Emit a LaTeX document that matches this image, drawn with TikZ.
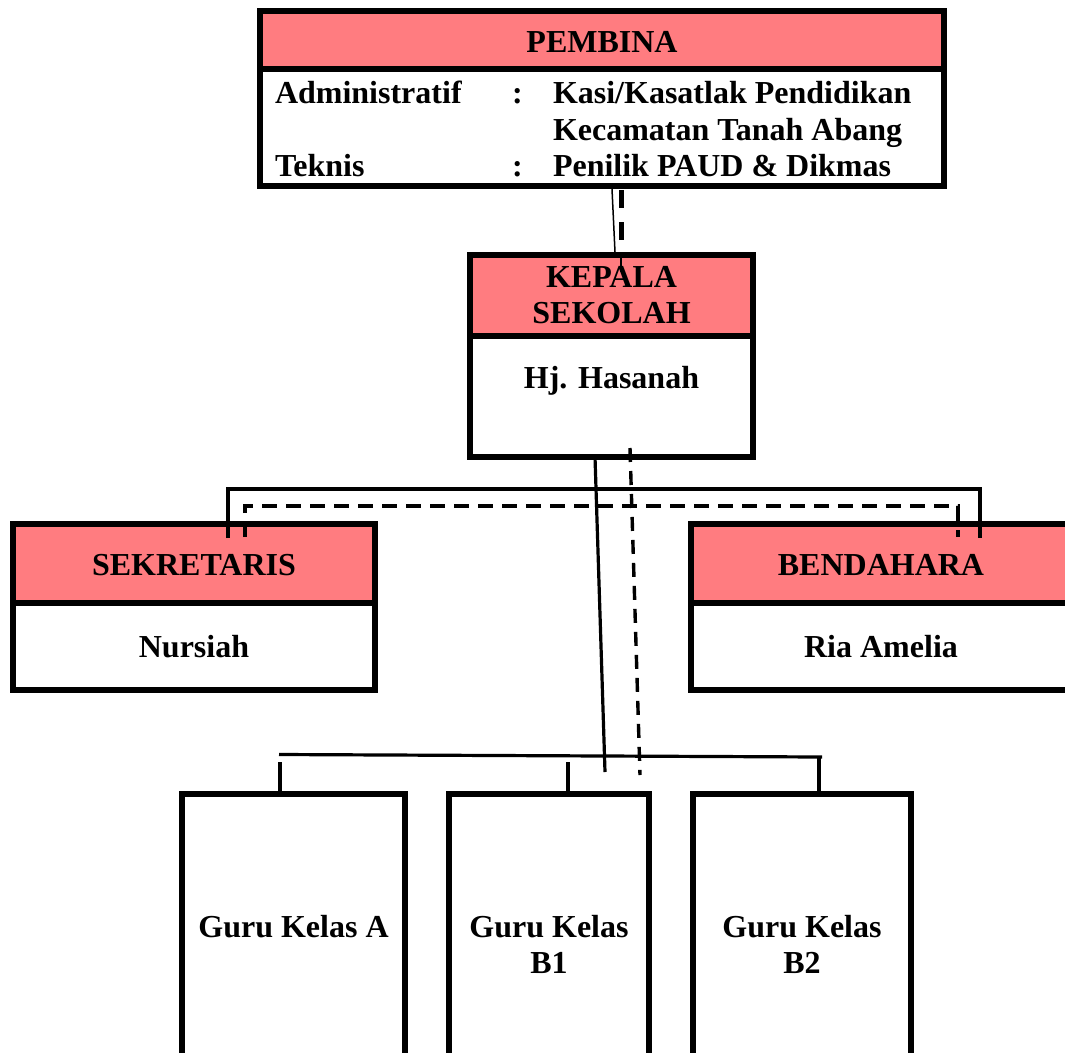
\documentclass[tikz,border=0pt]{standalone}
\usepackage{fontspec}
\setmainfont{Liberation Serif}
\definecolor{rosehead}{RGB}{255,124,128}
\begin{document}
\begin{tikzpicture}[x=1pt,y=-1pt,
  boxline/.style={draw=black,line width=6pt,rectangle,inner sep=0pt,outer sep=0pt},
  headbox/.style={boxline,fill=rosehead},
  bodybox/.style={boxline,fill=white},
  lbl/.style={inner sep=0pt,outer sep=0pt,font=\fontsize{32}{36}\selectfont\bfseries},
  solidlink/.style={line width=3.2pt},
  dashlink/.style={line width=3.4pt,dash pattern=on 14pt off 9pt},
]
\useasboundingbox (0,0) rectangle (1065,1052);
\clip (0,0) rectangle (1065,1052);

% PEMBINA
\node[headbox,minimum width=684,minimum height=58] (pembinaH) at (602,40) {};
\node[bodybox,minimum width=684,minimum height=117] (pembinaB) at (602,127.5) {};
% KEPALA SEKOLAH
\node[headbox,minimum width=283,minimum height=81] (kepalaH) at (611.5,295) {};
\node[bodybox,minimum width=283,minimum height=121.5] (kepalaB) at (611.5,396.25) {};
% SEKRETARIS
\node[headbox,minimum width=362,minimum height=79] (sekH) at (194,563.5) {};
\node[bodybox,minimum width=362,minimum height=86.7] (sekB) at (194,646.35) {};
% BENDAHARA
\node[headbox,minimum width=380,minimum height=79] (benH) at (881,563.5) {};
\node[bodybox,minimum width=380,minimum height=86.7] (benB) at (881,646.35) {};
% GURU
\node[bodybox,minimum width=223,minimum height=290] (guruA) at (293.5,939) {};
\node[bodybox,minimum width=200,minimum height=290] (guruB1) at (549,939) {};
\node[bodybox,minimum width=218,minimum height=290] (guruB2) at (802,939) {};

% connector coordinates
\coordinate (pa) at (612,189);
\coordinate (pb) at (615,252);
\coordinate (da) at (621,190);
\coordinate (db) at (621,252);
\coordinate (dc) at (621,272);
\coordinate (ks) at (595,457);
\coordinate (ke) at (605,772);
\coordinate (kd) at (630,448);
\coordinate (kde) at (640,775);
\coordinate (sl) at (228,538);
\coordinate (slt) at (228,489);
\coordinate (sr) at (980,538);
\coordinate (srt) at (980,489);
\coordinate (dl) at (245,537);
\coordinate (dlt) at (245,506);
\coordinate (dr) at (958,537);
\coordinate (drt) at (958,506);
\coordinate (hl) at (279,754.5);
\coordinate (hr) at (822,757);
\coordinate (ga) at (280,762);
\coordinate (gb) at (568,762);
\coordinate (gc) at (819,757);

% PEMBINA -> KEPALA
\draw[line width=1.5pt] (pa) -- (pb);
\draw[line width=5pt,dash pattern=on 18pt off 14pt] (da) -- (db);
\draw[line width=2pt] (db) -- (dc);
% KEPALA -> staff
\draw[solidlink] (ks) -- (ke);
\draw[dashlink] (kd) -- (kde);
\draw[solidlink,line cap=butt] (sl) -- (slt) -- (srt) -- (sr);
\draw[dashlink,dash pattern=on 15pt off 9pt] (dl) -- (dlt) -- (drt) -- (dr);
% to teachers
\draw[solidlink] (hl) -- (hr);
\draw[line width=4pt] (ga) -- (ga |- guruA.north);
\draw[line width=4pt] (gb) -- (gb |- guruB1.north);
\draw[line width=4pt] (gc) -- (gc |- guruB2.north);

% texts
\node[lbl,anchor=base] (tPembina) at (602,52) {PEMBINA};
\node[lbl,anchor=base west] (tAdm) at (275,103) {Administratif};
\node[lbl,anchor=base west] (tC1) at (512,103) {:};
\node[lbl,anchor=base west] (tKasi) at (553,103) {Kasi/Kasatlak Pendidikan};
\node[lbl,anchor=base west] (tKec) at (553,140) {Kecamatan Tanah Abang};
\node[lbl,anchor=base west] (tTek) at (275,176) {Teknis};
\node[lbl,anchor=base west] (tC2) at (512,176) {:};
\node[lbl,anchor=base west] (tPen) at (553,176) {Penilik PAUD \& Dikmas};

\node[lbl,anchor=base] (tKep) at (611.5,287) {KEPALA};
\node[lbl,anchor=base] (tSek) at (611.5,323.5) {SEKOLAH};
\node[lbl,anchor=base] (tHas) at (611.5,388.5) {Hj. Hasanah};

\node[lbl,anchor=base] (tSekr) at (194,575) {SEKRETARIS};
\node[lbl,anchor=base] (tNur) at (194,657) {Nursiah};
\node[lbl,anchor=base] (tBen) at (881,575) {BENDAHARA};
\node[lbl,anchor=base] (tRia) at (881,657) {Ria Amelia};

\node[lbl,anchor=base] (tGA) at (293.5,937) {Guru Kelas A};
\node[lbl,anchor=base] (tGB1a) at (549,937) {Guru Kelas};
\node[lbl,anchor=base] (tGB1b) at (549,973) {B1};
\node[lbl,anchor=base] (tGB2a) at (802,937) {Guru Kelas};
\node[lbl,anchor=base] (tGB2b) at (802,973) {B2};
\end{tikzpicture}
\end{document}
